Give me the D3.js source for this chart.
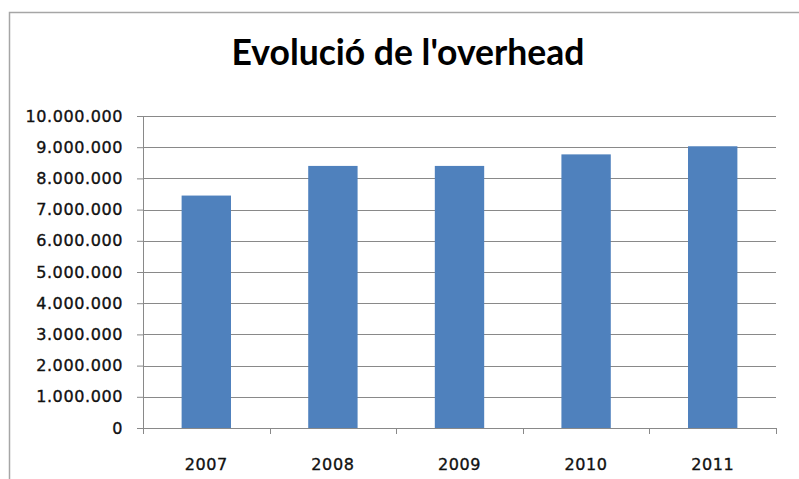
<!DOCTYPE html>
<html>
<head>
<meta charset="utf-8">
<script src="https://cdn.jsdelivr.net/npm/d3@7"></script>
<style>
  body { margin: 0; background: #fff; }
</style>
</head>
<body>
<svg id="chart" width="799" height="479"></svg>
<script>
const years = ['2007', '2008', '2009', '2010', '2011'];
const overhead = [7450000, 8400000, 8400000, 8770000, 9030000];
const yTicks = [0, 1000000, 2000000, 3000000, 4000000, 5000000, 6000000, 7000000, 8000000, 9000000, 10000000];

const svg = d3.select('#chart');
const margin = { left: 143, top: 116, right: 23, bottom: 51 };
const width = 799 - margin.left - margin.right;
const height = 479 - margin.top - margin.bottom;
const gridColor = '#898989';
const labelFont = '"DejaVu Sans", sans-serif';

// chart frame
svg.append('rect')
    .attr('x', 9.5)
    .attr('y', 12.5)
    .attr('width', 820)
    .attr('height', 500)
    .attr('fill', '#fff')
    .attr('stroke', '#a6a6a6')
    .attr('stroke-width', 1.5);

// title, fitted to the width it has in the picture
const title = svg.append('text')
    .text("Evolució de l'overhead")
    .attr('x', 408)
    .attr('y', 65)
    .attr('text-anchor', 'middle')
    .attr('font-family', 'Lato, "Open Sans", sans-serif')
    .attr('font-weight', 'bold')
    .attr('font-size', 32)
    .attr('fill', '#000');
let len = title.node().getComputedTextLength();
title.attr('font-size', 32 * 353 / len);

const g = svg.append('g')
    .attr('transform', 'translate(' + margin.left + ',' + margin.top + ')');

const x = d3.scaleBand().domain(years).range([0, width]).padding(0);
const y = d3.scaleLinear().domain([0, 10000000]).range([height, 0]);

const fmt = v => d3.format(',')(v).replace(/,/g, '.');

// gridlines
g.append('g')
    .selectAll('line')
    .data(yTicks.slice(1))
    .join('line')
    .attr('x1', 0)
    .attr('x2', width)
    .attr('y1', d => Math.round(y(d)) + 0.5)
    .attr('y2', d => Math.round(y(d)) + 0.5)
    .attr('stroke', gridColor)
    .attr('stroke-width', 1);

// bars
const barW = x.bandwidth() * 0.39;
g.append('g')
    .selectAll('rect')
    .data(overhead)
    .join('rect')
    .attr('x', (d, i) => x(years[i]) + (x.bandwidth() - barW) / 2)
    .attr('y', d => y(d))
    .attr('width', barW)
    .attr('height', d => height - y(d))
    .attr('fill', '#4f81bd');

function styleLabel(sel) {
    sel.attr('font-family', labelFont)
        .attr('font-size', 16)
        .attr('letter-spacing', 0.6)
        .attr('fill', '#111')
        .attr('stroke', '#111')
        .attr('stroke-width', 0.35);
}

// y axis
const yAxis = g.append('g')
    .call(d3.axisLeft(y).tickValues(yTicks).tickFormat(fmt).tickSize(6).tickPadding(14));
yAxis.select('.domain').attr('stroke', gridColor).attr('d', 'M0.5,0V' + height);
yAxis.selectAll('.tick line').attr('stroke', gridColor);
yAxis.selectAll('.tick text').call(styleLabel);

// x axis with ticks at category boundaries
const xAxisG = g.append('g')
    .attr('transform', 'translate(0,' + height + ')');
xAxisG.append('line')
    .attr('x1', 0)
    .attr('x2', width)
    .attr('y1', 0.5)
    .attr('y2', 0.5)
    .attr('stroke', gridColor);
const bounds = years.map(d => x(d)).concat([width]);
xAxisG.selectAll('line.tick')
    .data(bounds)
    .join('line')
    .attr('class', 'tick')
    .attr('x1', d => Math.round(d) + 0.5)
    .attr('x2', d => Math.round(d) + 0.5)
    .attr('y1', 0)
    .attr('y2', 6)
    .attr('stroke', gridColor);
xAxisG.selectAll('text')
    .data(years)
    .join('text')
    .text(d => d)
    .attr('x', d => x(d) + x.bandwidth() / 2)
    .attr('y', 42)
    .attr('text-anchor', 'middle')
    .call(styleLabel);
</script>
</body>
</html>
